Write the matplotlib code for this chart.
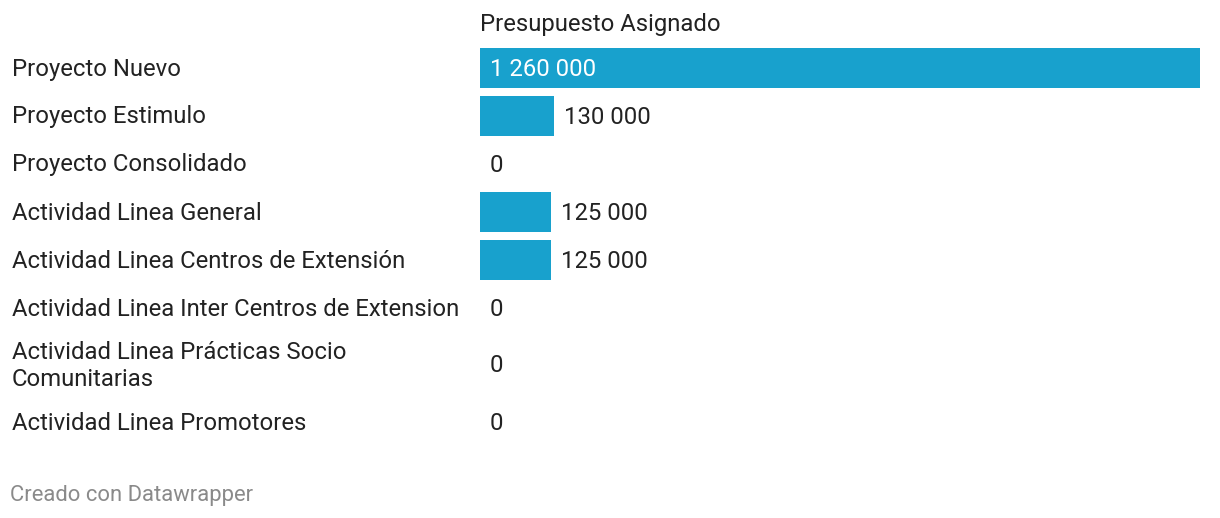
import matplotlib
matplotlib.use('Agg')
import matplotlib.pyplot as plt

plt.rcParams['font.family'] = ['Roboto', 'DejaVu Sans']

# Data
categories = [
    'Proyecto Nuevo',
    'Proyecto Estimulo',
    'Proyecto Consolidado',
    'Actividad Linea General',
    'Actividad Linea Centros de Extensión',
    'Actividad Linea Inter Centros de Extension',
    'Actividad Linea Prácticas Socio\nComunitarias',
    'Actividad Linea Promotores',
]
values = [1260000, 130000, 0, 125000, 125000, 0, 0, 0]
column_title = 'Presupuesto Asignado'
footer = 'Creado con Datawrapper'

W, H = 1220, 518
bar_color = '#18a1cd'
text_color = '#222222'
fs = 17.2

fig = plt.figure(figsize=(W / 100, H / 100), dpi=100)
fig.patch.set_facecolor('white')

# bar area: x in data units, y in pixel rows (top = 0)
left_px, right_px = 480, 1200
ax = fig.add_axes([left_px / W, 0, (right_px - left_px) / W, 1])
ax.set_xlim(0, max(values))
ax.set_ylim(H, 0)
ax.axis('off')

# row layout
top = 44
base_h = 48
extra_line = 18
centers = []
y = top
for c in categories:
    h = base_h + extra_line * (c.count('\n'))
    centers.append(y + h / 2)
    y += h

ax.barh(centers, values, height=40, color=bar_color)

for c, v, yc in zip(categories, values, centers):
    fig.text(12 / W, 1 - (yc + 1) / H, c, ha='left', va='center', fontsize=fs,
             color=text_color, linespacing=1.2)
    lbl = f'{v:,}'.replace(',', ' ')
    if v > max(values) * 0.5:
        ax.annotate(lbl, (0, yc), xytext=(10, -1), textcoords='offset pixels',
                    ha='left', va='center', fontsize=fs, color='white')
    else:
        ax.annotate(lbl, (v, yc), xytext=(10, -1), textcoords='offset pixels',
                    ha='left', va='center', fontsize=fs, color=text_color)

fig.text(left_px / W, 1 - 24 / H, column_title, ha='left', va='center',
         fontsize=fs, color=text_color)
fig.text(10 / W, 1 - 495 / H, footer, ha='left', va='center',
         fontsize=15.8, color='#8a8a8a')

plt.savefig('out.png', dpi=100)
